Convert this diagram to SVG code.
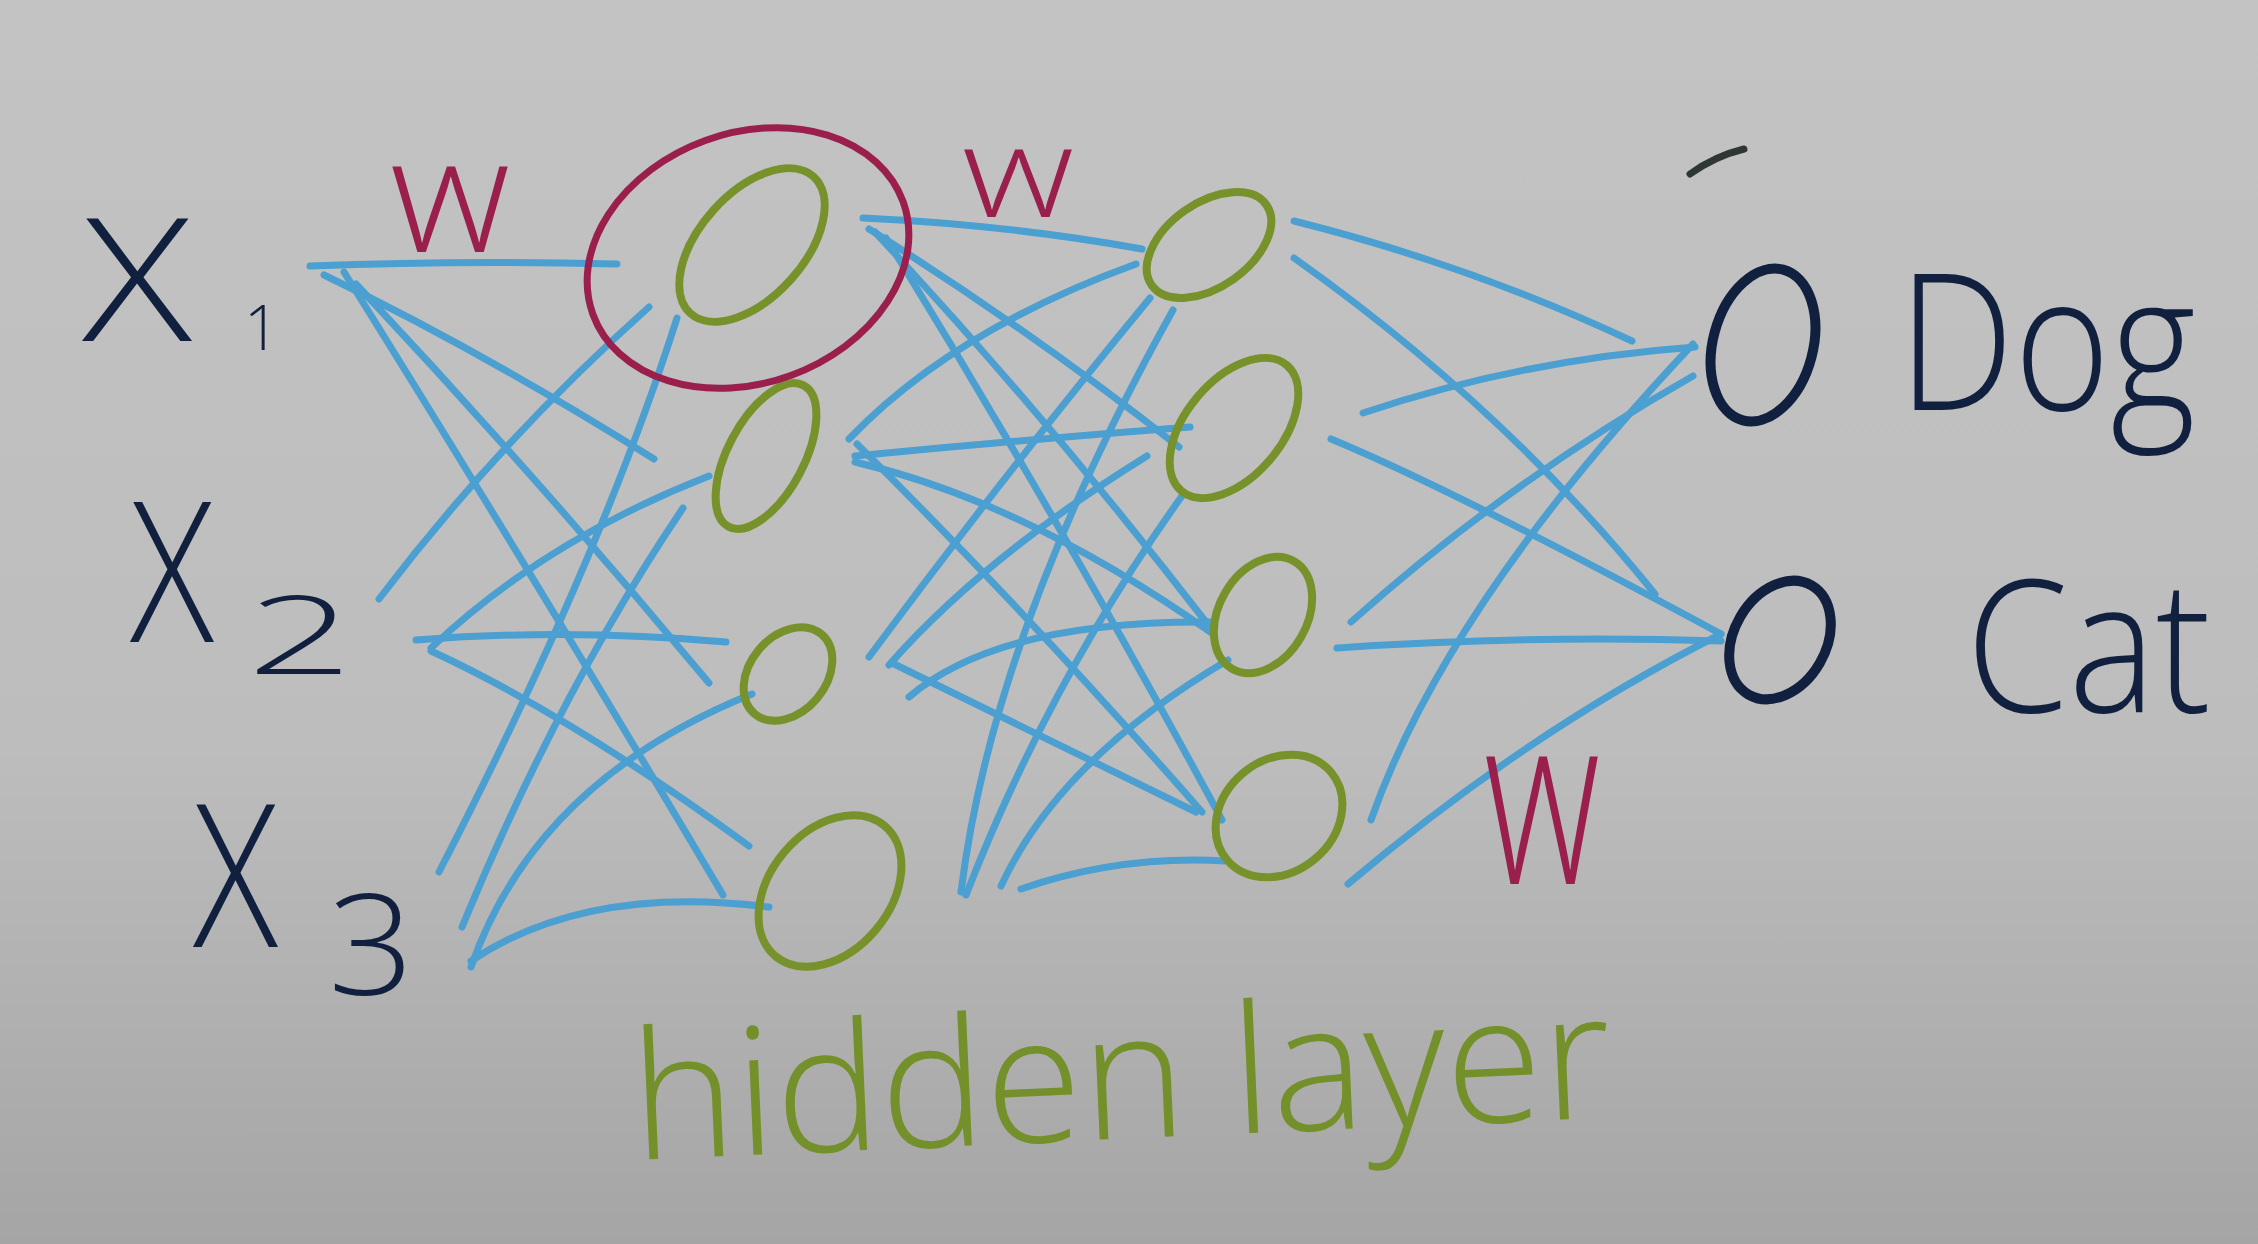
<svg xmlns="http://www.w3.org/2000/svg" width="2258" height="1244" viewBox="0 0 2258 1244">
<defs>
<linearGradient id="bg" x1="0" y1="0" x2="0" y2="1">
<stop offset="0" stop-color="#c3c3c3"/>
<stop offset="0.6" stop-color="#bdbdbd"/>
<stop offset="1" stop-color="#a5a5a5"/>
</linearGradient>
<style>
.conn{fill:none;stroke:#4c9fd1;stroke-width:7;stroke-linecap:round}
.hid{fill:none;stroke:#77922b;stroke-width:8}
.out{fill:none;stroke:#10203e;stroke-width:10}
.sel{fill:none;stroke:#9b1f4d;stroke-width:7}
.t{font-family:'Open Sans','Liberation Sans',sans-serif;font-weight:300}
.navy{fill:#10203e}
.red{fill:#9b1f4d}
.green{fill:#74902a}
</style>
</defs>
<rect width="2258" height="1244" fill="url(#bg)"/>

<g id="connectors">
<!-- input -> hidden 1 -->
<path class="conn" d="M310,266 Q460,260 617,264"/>
<path class="conn" d="M324,275 Q480,350 654,459"/>
<path class="conn" d="M356,284 Q540,480 709,683"/>
<path class="conn" d="M344,272 Q530,570 723,895"/>
<path class="conn" d="M379,599 Q500,440 649,307"/>
<path class="conn" d="M439,872 Q600,560 677,318"/>
<path class="conn" d="M431,648 Q545,540 709,476"/>
<path class="conn" d="M416,640 Q570,628 726,642"/>
<path class="conn" d="M431,651 Q570,715 749,846"/>
<path class="conn" d="M462,927 Q560,690 683,508"/>
<path class="conn" d="M471,967 Q536,781 752,694"/>
<path class="conn" d="M471,961 Q586,884 769,907"/>
<!-- hidden 1 -> hidden 2 -->
<path class="conn" d="M863,218 Q1010,225 1142,249"/>
<path class="conn" d="M869,229 Q1030,330 1179,447"/>
<path class="conn" d="M875,232 Q1050,420 1213,631"/>
<path class="conn" d="M886,238 Q1060,520 1222,820"/>
<path class="conn" d="M849,439 Q952,331 1136,264"/>
<path class="conn" d="M855,456 Q1020,440 1190,427"/>
<path class="conn" d="M855,462 Q1026,502 1213,634"/>
<path class="conn" d="M857,444 Q1025,610 1202,812"/>
<path class="conn" d="M869,657 Q1000,480 1150,298"/>
<path class="conn" d="M889,665 Q984,557 1147,456"/>
<path class="conn" d="M909,697 Q999,620 1213,622"/>
<path class="conn" d="M892,663 Q1040,735 1196,812"/>
<path class="conn" d="M961,892 Q993,633 1173,310"/>
<path class="conn" d="M966,895 Q1050,680 1182,496"/>
<path class="conn" d="M1001,886 Q1060,759 1228,660"/>
<path class="conn" d="M1021,889 Q1120,855 1225,861"/>
<!-- hidden 2 -> output -->
<path class="conn" d="M1294,221 Q1470,265 1632,341"/>
<path class="conn" d="M1294,258 Q1503,406 1655,594"/>
<path class="conn" d="M1363,413 Q1520,360 1695,347"/>
<path class="conn" d="M1331,439 Q1452,489 1721,634"/>
<path class="conn" d="M1351,622 Q1510,480 1693,376"/>
<path class="conn" d="M1337,648 Q1530,635 1721,641"/>
<path class="conn" d="M1371,820 Q1446,606 1693,344"/>
<path class="conn" d="M1348,884 Q1530,730 1721,634"/>
</g>

<g id="h1n1"><ellipse class="hid" cx="752" cy="245" rx="92" ry="52" transform="rotate(-48 752 245)"/></g>
<g id="h1n2"><ellipse class="hid" cx="766" cy="456" rx="80" ry="38" transform="rotate(-62 766 456)"/></g>
<g id="h1n3"><ellipse class="hid" cx="788" cy="674" rx="52" ry="38" transform="rotate(-50 788 674)"/></g>
<g id="h1n4"><ellipse class="hid" cx="830" cy="891" rx="85" ry="60" transform="rotate(-50 830 891)"/></g>

<g id="h2n1"><ellipse class="hid" cx="1209" cy="245" rx="70" ry="42" transform="rotate(-35 1209 245)"/></g>
<g id="h2n2"><ellipse class="hid" cx="1234" cy="428" rx="82" ry="48" transform="rotate(-50 1234 428)"/></g>
<g id="h2n3"><ellipse class="hid" cx="1263" cy="615" rx="62" ry="44" transform="rotate(-60 1263 615)"/></g>
<g id="h2n4"><ellipse class="hid" cx="1279" cy="816" rx="68" ry="56" transform="rotate(-40 1279 816)"/></g>

<g id="out-dog"><ellipse class="out" cx="1763" cy="345" rx="78" ry="50" transform="rotate(-75 1763 345)"/></g>
<g id="out-cat"><ellipse class="out" cx="1780" cy="640" rx="63" ry="46" transform="rotate(-60 1780 640)"/></g>

<g id="highlight"><ellipse class="sel" cx="748" cy="258" rx="165" ry="125" transform="rotate(-20 748 258)"/></g>

<g id="mark"><path d="M1690,174 Q1715,156 1744,149" fill="none" stroke="#2f3636" stroke-width="7" stroke-linecap="round"/></g>

<g id="x1"><text class="t navy"><tspan x="82" y="341" font-size="172" textLength="110" lengthAdjust="spacingAndGlyphs">X</tspan><tspan x="244" y="350" font-size="62">1</tspan></text></g>
<g id="x2"><text class="t navy"><tspan x="130" y="642" font-size="195" textLength="84" lengthAdjust="spacingAndGlyphs">X</tspan><tspan x="247" y="674" font-size="108" textLength="106" lengthAdjust="spacingAndGlyphs">2</tspan></text></g>
<g id="x3"><text class="t navy"><tspan x="193" y="947" font-size="200" textLength="85" lengthAdjust="spacingAndGlyphs">X</tspan><tspan x="328" y="995" font-size="140" textLength="86" lengthAdjust="spacingAndGlyphs">3</tspan></text></g>

<g id="label-dog"><text class="t navy" x="1898" y="410" font-size="190" textLength="298" lengthAdjust="spacingAndGlyphs">Dog</text></g>
<g id="label-cat"><text class="t navy" x="1966" y="712" font-size="185" textLength="245" lengthAdjust="spacingAndGlyphs">Cat</text></g>

<g id="w1"><text class="t red" x="390" y="252" font-size="160" textLength="120" lengthAdjust="spacingAndGlyphs">w</text></g>
<g id="w2"><text class="t red" x="962" y="217" font-size="128" textLength="112" lengthAdjust="spacingAndGlyphs">w</text></g>
<g id="w3"><text class="t red" x="1484" y="884" font-size="240" textLength="116" lengthAdjust="spacingAndGlyphs">w</text></g>

<g id="hidden-label"><text class="t green" x="634" y="1160" font-size="178" textLength="980" lengthAdjust="spacingAndGlyphs" transform="rotate(-2.5 634 1160)">hidden layer</text></g>
</svg>
